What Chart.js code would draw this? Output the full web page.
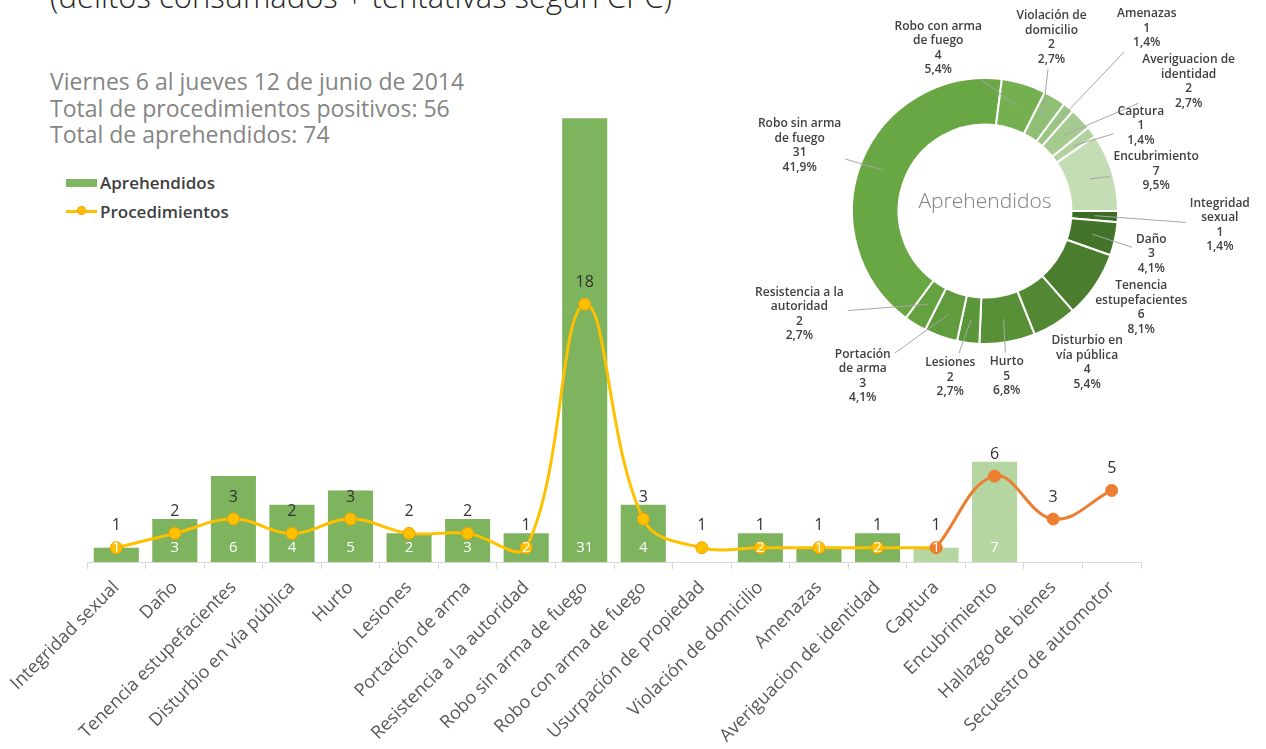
<!DOCTYPE html>
<html>
<head>
<meta charset="utf-8">
<script src="https://cdn.jsdelivr.net/npm/chart.js@4.4.1/dist/chart.umd.min.js"></script>
<style>
  html, body { margin: 0; padding: 0; background: #fff; }
  body { width: 1266px; height: 749px; position: relative; overflow: hidden; font-family: "Open Sans", sans-serif; }
  canvas { position: absolute; }
  #barChart { left: 0; top: 0; }
  #pieChart { left: 720px; top: 0; }
  .subtitle { position: absolute; left: 50px; top: -25px; font-size: 31px; font-weight: 300; color: #262626; white-space: nowrap; }
  .info { position: absolute; left: 50px; top: 68px; font-size: 23px; line-height: 26.5px; font-weight: 400; color: #858585; white-space: nowrap; }
  .legend { position: absolute; left: 66px; top: 168px; font-size: 17px; font-weight: 600; color: #404040; }
  .legend div { height: 29px; display: flex; align-items: center; }
  .sw { display: inline-block; width: 31px; margin-right: 3px; position: relative; }
  .sw.bar { height: 8px; background: #80b661; }
  .sw.line { height: 3px; background: #ffc000; }
  .sw.line i { position: absolute; left: 12px; top: -3px; width: 7px; height: 7px; border-radius: 50%; background: #ffc000; box-shadow: 0 0 0 1px #f5a200; }
</style>
</head>
<body>
<div class="subtitle">(delitos consumados + tentativas según CPC)</div>
<div class="info">Viernes 6 al jueves 12 de junio de 2014<br>Total de procedimientos positivos: 56<br>Total de aprehendidos: 74</div>
<div class="legend">
  <div><span class="sw bar"></span>Aprehendidos</div>
  <div><span class="sw line"><i></i></span>Procedimientos</div>
</div>
<canvas id="barChart" width="1266" height="749"></canvas>
<canvas id="pieChart" width="546" height="420"></canvas>
<script>
const categories = [
  'Integridad sexual', 'Daño', 'Tenencia estupefacientes', 'Disturbio en vía pública',
  'Hurto', 'Lesiones', 'Portación de arma', 'Resistencia a la autoridad',
  'Robo sin arma de fuego', 'Robo con arma de fuego', 'Usurpación de propiedad',
  'Violación de domicilio', 'Amenazas', 'Averiguacion de identidad', 'Captura',
  'Encubrimiento', 'Hallazgo de bienes', 'Secuestro de automotor'
];
const aprehendidos = [1, 3, 6, 4, 5, 2, 3, 2, 31, 4, null, 2, 1, 2, 1, 7, null, null];
const procedimientos = [1, 2, 3, 2, 3, 2, 2, 1, 18, 3, 1, 1, 1, 1, 1, 6, 3, 5];
const lightBars = ['Captura', 'Encubrimiento'];
const handover = categories.indexOf('Captura'); // yellow line stops here, orange one starts

// doughnut label texts, wrapped like the original
const pieWrapped = {
  'Integridad sexual': 'Integridad\nsexual',
  'Tenencia estupefacientes': 'Tenencia\nestupefacientes',
  'Disturbio en vía pública': 'Disturbio en\nvía pública',
  'Portación de arma': 'Portación\nde arma',
  'Resistencia a la autoridad': 'Resistencia a la\nautoridad',
  'Robo sin arma de fuego': 'Robo sin arma\nde fuego',
  'Robo con arma de fuego': 'Robo con arma\nde fuego',
  'Violación de domicilio': 'Violación de\ndomicilio',
  'Averiguacion de identidad': 'Averiguacion de\nidentidad'
};
// label anchors around the ring: [angle in degrees, distance at radius 134]
const pieLabelSpots = [
  [3.4, 237], [14.4, 173], [31.7, 185], [56, 184], [82.5, 168], [101.8, 171],
  [126.5, 207], [150.9, 214], [199.4, 198], [254, 171], [291, 187],
  [311.5, 246], [327.6, 243], [331.3, 179], [346.9, 177]
];
const noLeader = ['Tenencia estupefacientes', 'Disturbio en vía pública'];

const pieCats = categories.filter((c, i) => aprehendidos[i] != null);
const pieValues = aprehendidos.filter(v => v != null);
const pieTotal = pieValues.reduce((a, b) => a + b, 0);

Chart.defaults.font.family = '"Open Sans", sans-serif';

const valueLabels = {
  id: 'valueLabels',
  afterDatasetsDraw(chart) {
    const ctx = chart.ctx;
    const base = chart.scales.y.getPixelForValue(0);
    ctx.save();
    ctx.textAlign = 'center';
    ctx.textBaseline = 'middle';
    ctx.font = '15px "Open Sans"';
    ctx.fillStyle = '#ffffff';
    chart.getDatasetMeta(0).data.forEach((bar, i) => {
      if (aprehendidos[i] == null) return;
      ctx.fillText(String(aprehendidos[i]), bar.x, base - 14);
    });
    ctx.font = '16px "Open Sans"';
    ctx.fillStyle = '#333333';
    [1, 2].forEach(di => {
      const data = chart.data.datasets[di].data;
      chart.getDatasetMeta(di).data.forEach((pt, i) => {
        if (data[i] == null) return;
        if (di === 2 && i === handover) return;
        ctx.fillText(String(data[i]), pt.x, pt.y - 22);
      });
    });
    ctx.restore();
  }
};

new Chart(document.getElementById('barChart'), {
  data: {
    labels: categories,
    datasets: [
      {
        type: 'bar',
        label: 'Aprehendidos',
        data: aprehendidos,
        backgroundColor: categories.map(c => lightBars.includes(c) ? '#b5d6a0' : '#7db45d'),
        barPercentage: 0.77,
        categoryPercentage: 1,
        order: 2
      },
      {
        type: 'line',
        label: 'Procedimientos',
        data: procedimientos.map((v, i) => i <= handover ? v : null),
        borderColor: '#ffc000',
        borderWidth: 3,
        tension: 0.4,
        pointRadius: 6,
        pointBackgroundColor: '#ffc000',
        pointBorderColor: '#f5a200',
        pointBorderWidth: 1,
        order: 1
      },
      {
        type: 'line',
        label: 'Procedimientos (resto)',
        data: procedimientos.map((v, i) => i >= handover ? v : null),
        borderColor: '#ed7d31',
        borderWidth: 3,
        tension: 0.4,
        pointRadius: 6,
        pointBackgroundColor: '#ed7d31',
        pointBorderColor: '#ed7d31',
        pointBorderWidth: 1,
        order: 0
      }
    ]
  },
  options: {
    responsive: false,
    animation: false,
    layout: { padding: { left: 87, right: 125, top: 61, bottom: 0 } },
    scales: {
      x: {
        offset: true,
        grid: { drawOnChartArea: false, drawTicks: true, tickLength: 7, color: '#d9d9d9' },
        border: { display: true, color: '#d9d9d9' },
        ticks: {
          autoSkip: false, minRotation: 45, maxRotation: 45, padding: 8,
          color: '#595959', font: { size: 18 }
        },
        afterFit: s => { s.height = 187; }
      },
      y: { display: false, min: 0, max: 35 }
    },
    plugins: { legend: { display: false }, tooltip: { enabled: false } }
  },
  plugins: [valueLabels]
});

const pieLabels = {
  id: 'pieLabels',
  afterDraw(chart) {
    const ctx = chart.ctx;
    const arcs = chart.getDatasetMeta(0).data;
    ctx.save();
    arcs.forEach((arc, i) => {
      const { x, y, startAngle, endAngle, innerRadius, outerRadius } =
        arc.getProps(['x', 'y', 'startAngle', 'endAngle', 'innerRadius', 'outerRadius'], true);
      const name = pieCats[i];
      const v = pieValues[i];
      const pct = (v / pieTotal * 100).toFixed(1).replace('.', ',') + '%';
      const lines = (pieWrapped[name] || name).split('\n').concat([String(v), pct]);
      const k = outerRadius / 134;
      const [deg, dist] = pieLabelSpots[i];
      const a = deg * Math.PI / 180;
      const lx = x + Math.cos(a) * dist * k;
      const ly = y + Math.sin(a) * dist * k;
      const lh = 14.5;
      ctx.font = '600 12px "Open Sans"';
      const w = Math.max(...lines.map(l => ctx.measureText(l).width));
      const h = lines.length * lh;

      if (!noLeader.includes(name)) {
        const mid = (startAngle + endAngle) / 2;
        const rm = (innerRadius + outerRadius) / 2;
        const sx = x + Math.cos(mid) * rm, sy = y + Math.sin(mid) * rm;
        const dx = sx - lx, dy = sy - ly;
        const t = Math.min((w / 2 + 4) / Math.abs(dx || 1e-6), (h / 2 + 2) / Math.abs(dy || 1e-6));
        if (t < 0.9) {
          ctx.strokeStyle = '#a6a6a6';
          ctx.lineWidth = 1;
          ctx.beginPath();
          ctx.moveTo(sx, sy);
          ctx.lineTo(lx + dx * t, ly + dy * t);
          ctx.stroke();
        }
      }

      ctx.fillStyle = '#404040';
      ctx.textAlign = 'center';
      ctx.textBaseline = 'middle';
      lines.forEach((l, j) => ctx.fillText(l, lx, ly - h / 2 + lh * (j + 0.5)));
    });
    const c = arcs[0];
    ctx.font = '300 21px "Open Sans"';
    ctx.fillStyle = '#7f7f7f';
    ctx.textAlign = 'center';
    ctx.textBaseline = 'middle';
    ctx.fillText('Aprehendidos', c.x, c.y - 9);
    ctx.restore();
  }
};

new Chart(document.getElementById('pieChart'), {
  type: 'doughnut',
  data: {
    labels: pieCats,
    datasets: [{
      data: pieValues,
      backgroundColor: [
        '#3c6b23', '#44742a', '#4b7d2f', '#528833', '#579037', '#5c963a', '#609c3d', '#64a140',
        '#69a744', '#74af50', '#8fbf75', '#9bc583', '#a6cb90', '#b2d29d', '#c5ddb5'
      ],
      borderColor: '#ffffff',
      borderWidth: 2
    }]
  },
  options: {
    responsive: false,
    animation: false,
    rotation: 90,
    cutout: '65%',
    layout: { padding: { left: 131, right: 147, top: 77, bottom: 75 } },
    plugins: { legend: { display: false }, tooltip: { enabled: false } }
  },
  plugins: [pieLabels]
});
</script>
</body>
</html>
